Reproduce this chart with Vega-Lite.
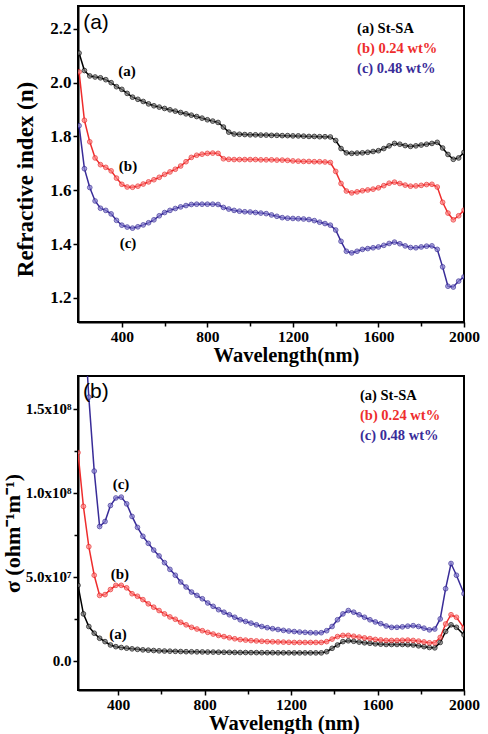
{
  "$schema": "https://vega.github.io/schema/vega-lite/v6.json",
  "background": "white",
  "padding": {"left": 0, "top": 5, "right": 10, "bottom": 0},
  "spacing": 8,
  "config": {
    "view": {"stroke": "#000", "strokeWidth": 2},
    "axis": {
      "domainColor": "#000", "domainWidth": 2, "tickColor": "#000", "tickWidth": 1.5,
      "labelFont": "Liberation Serif", "labelFontWeight": "bold", "labelColor": "#000",
      "titleFont": "Liberation Serif", "titleFontWeight": "bold", "titleColor": "#000",
      "grid": false, "labelFlush": false, "labelOverlap": false, "labelPadding": 2
    }
  },
  "datasets": {
    "top": [
      {"wl":200,"a":2.11,"b":2.04,"c":1.84},{"wl":225,"a":2.045,"b":1.86,"c":1.68},{"wl":250,"a":2.025,"b":1.78,"c":1.61},
      {"wl":275,"a":2.021,"b":1.72,"c":1.56},{"wl":300,"a":2.018,"b":1.695,"c":1.533},{"wl":325,"a":2.011,"b":1.685,"c":1.525},
      {"wl":350,"a":2.0,"b":1.672,"c":1.512},{"wl":375,"a":1.985,"b":1.645,"c":1.488},{"wl":400,"a":1.975,"b":1.622,"c":1.47},
      {"wl":425,"a":1.96,"b":1.612,"c":1.463},{"wl":450,"a":1.946,"b":1.611,"c":1.459},{"wl":475,"a":1.938,"b":1.615,"c":1.464},
      {"wl":500,"a":1.93,"b":1.623,"c":1.471},{"wl":525,"a":1.921,"b":1.631,"c":1.479},{"wl":550,"a":1.914,"b":1.639,"c":1.49},
      {"wl":575,"a":1.909,"b":1.648,"c":1.505},{"wl":600,"a":1.904,"b":1.659,"c":1.517},{"wl":625,"a":1.899,"b":1.668,"c":1.525},
      {"wl":650,"a":1.894,"b":1.678,"c":1.532},{"wl":675,"a":1.889,"b":1.69,"c":1.538},{"wl":700,"a":1.884,"b":1.706,"c":1.543},
      {"wl":725,"a":1.879,"b":1.722,"c":1.547},{"wl":750,"a":1.874,"b":1.73,"c":1.548},{"wl":775,"a":1.868,"b":1.734,"c":1.548},
      {"wl":800,"a":1.862,"b":1.737,"c":1.548},{"wl":825,"a":1.857,"b":1.738,"c":1.548},{"wl":850,"a":1.852,"b":1.737,"c":1.547},
      {"wl":875,"a":1.835,"b":1.717,"c":1.536},{"wl":900,"a":1.816,"b":1.715,"c":1.53},{"wl":925,"a":1.809,"b":1.714,"c":1.525},
      {"wl":950,"a":1.808,"b":1.714,"c":1.522},{"wl":975,"a":1.807,"b":1.714,"c":1.52},{"wl":1000,"a":1.806,"b":1.714,"c":1.519},
      {"wl":1025,"a":1.806,"b":1.714,"c":1.517},{"wl":1050,"a":1.805,"b":1.713,"c":1.515},{"wl":1075,"a":1.805,"b":1.713,"c":1.513},
      {"wl":1100,"a":1.804,"b":1.713,"c":1.508},{"wl":1125,"a":1.804,"b":1.712,"c":1.503},{"wl":1150,"a":1.803,"b":1.712,"c":1.498},
      {"wl":1175,"a":1.803,"b":1.711,"c":1.496},{"wl":1200,"a":1.802,"b":1.709,"c":1.495},{"wl":1225,"a":1.802,"b":1.708,"c":1.494},
      {"wl":1250,"a":1.801,"b":1.707,"c":1.493},{"wl":1275,"a":1.8,"b":1.707,"c":1.491},{"wl":1300,"a":1.8,"b":1.706,"c":1.487},
      {"wl":1325,"a":1.799,"b":1.706,"c":1.481},{"wl":1350,"a":1.799,"b":1.705,"c":1.476},{"wl":1375,"a":1.798,"b":1.703,"c":1.47},
      {"wl":1400,"a":1.785,"b":1.67,"c":1.452},{"wl":1425,"a":1.755,"b":1.625,"c":1.41},{"wl":1450,"a":1.739,"b":1.597,"c":1.373},
      {"wl":1475,"a":1.737,"b":1.59,"c":1.367},{"wl":1500,"a":1.738,"b":1.594,"c":1.373},{"wl":1525,"a":1.739,"b":1.598,"c":1.38},
      {"wl":1550,"a":1.741,"b":1.601,"c":1.383},{"wl":1575,"a":1.744,"b":1.604,"c":1.386},{"wl":1600,"a":1.747,"b":1.609,"c":1.389},
      {"wl":1625,"a":1.755,"b":1.617,"c":1.395},{"wl":1650,"a":1.765,"b":1.626,"c":1.402},{"wl":1675,"a":1.774,"b":1.63,"c":1.407},
      {"wl":1700,"a":1.771,"b":1.625,"c":1.401},{"wl":1725,"a":1.766,"b":1.619,"c":1.393},{"wl":1750,"a":1.763,"b":1.615,"c":1.387},
      {"wl":1775,"a":1.765,"b":1.616,"c":1.386},{"wl":1800,"a":1.768,"b":1.618,"c":1.389},{"wl":1825,"a":1.771,"b":1.621,"c":1.392},
      {"wl":1850,"a":1.774,"b":1.622,"c":1.393},{"wl":1875,"a":1.778,"b":1.612,"c":1.38},{"wl":1900,"a":1.757,"b":1.555,"c":1.315},
      {"wl":1925,"a":1.733,"b":1.515,"c":1.243},{"wl":1950,"a":1.715,"b":1.49,"c":1.24},{"wl":1975,"a":1.72,"b":1.505,"c":1.262},
      {"wl":2000,"a":1.741,"b":1.526,"c":1.278}
    ],
    "bot": [
      {"wl":215,"a":4.5e7,"b":1.24e8,"c":2.9e8},{"wl":240,"a":2.8e7,"b":9.2e7,"c":2.1e8},{"wl":265,"a":2.05e7,"b":6.8e7,"c":1.57e8},
      {"wl":290,"a":1.65e7,"b":5.1e7,"c":1.13e8},{"wl":315,"a":1.35e7,"b":3.9e7,"c":8.0e7},{"wl":340,"a":1.15e7,"b":3.95e7,"c":8.3e7},
      {"wl":365,"a":9.5e6,"b":4.25e7,"c":9.25e7},{"wl":390,"a":8.5e6,"b":4.5e7,"c":9.7e7},{"wl":415,"a":8.0e6,"b":4.5e7,"c":9.75e7},
      {"wl":440,"a":7.6e6,"b":4.35e7,"c":9.35e7},{"wl":465,"a":7.2e6,"b":4.0e7,"c":8.6e7},{"wl":490,"a":6.9e6,"b":3.85e7,"c":7.95e7},
      {"wl":515,"a":6.6e6,"b":3.65e7,"c":7.42e7},{"wl":540,"a":6.4e6,"b":3.4e7,"c":7.0e7},{"wl":565,"a":6.2e6,"b":3.2e7,"c":6.6e7},
      {"wl":590,"a":6.0e6,"b":3.0e7,"c":6.25e7},{"wl":615,"a":5.9e6,"b":2.8e7,"c":5.85e7},{"wl":640,"a":5.8e6,"b":2.62e7,"c":5.45e7},
      {"wl":665,"a":5.7e6,"b":2.48e7,"c":5.1e7},{"wl":690,"a":5.6e6,"b":2.3e7,"c":4.7e7},{"wl":715,"a":5.5e6,"b":2.15e7,"c":4.4e7},
      {"wl":740,"a":5.45e6,"b":2.0e7,"c":4.1e7},{"wl":765,"a":5.4e6,"b":1.9e7,"c":3.9e7},{"wl":790,"a":5.35e6,"b":1.8e7,"c":3.7e7},
      {"wl":815,"a":5.3e6,"b":1.7e7,"c":3.45e7},{"wl":840,"a":5.25e6,"b":1.6e7,"c":3.25e7},{"wl":865,"a":5.2e6,"b":1.52e7,"c":3.05e7},
      {"wl":890,"a":5.15e6,"b":1.45e7,"c":2.9e7},{"wl":915,"a":5.1e6,"b":1.38e7,"c":2.75e7},{"wl":940,"a":5.05e6,"b":1.32e7,"c":2.6e7},
      {"wl":965,"a":5.0e6,"b":1.27e7,"c":2.45e7},{"wl":990,"a":5.0e6,"b":1.24e7,"c":2.35e7},{"wl":1015,"a":4.95e6,"b":1.21e7,"c":2.25e7},
      {"wl":1040,"a":4.95e6,"b":1.19e7,"c":2.15e7},{"wl":1065,"a":4.9e6,"b":1.17e7,"c":2.05e7},{"wl":1090,"a":4.9e6,"b":1.15e7,"c":1.98e7},
      {"wl":1115,"a":4.9e6,"b":1.14e7,"c":1.92e7},{"wl":1140,"a":4.85e6,"b":1.13e7,"c":1.87e7},{"wl":1165,"a":4.85e6,"b":1.12e7,"c":1.82e7},
      {"wl":1190,"a":4.85e6,"b":1.11e7,"c":1.78e7},{"wl":1215,"a":4.8e6,"b":1.1e7,"c":1.75e7},{"wl":1240,"a":4.8e6,"b":1.1e7,"c":1.72e7},
      {"wl":1265,"a":4.8e6,"b":1.1e7,"c":1.7e7},{"wl":1290,"a":4.8e6,"b":1.1e7,"c":1.68e7},{"wl":1315,"a":4.8e6,"b":1.1e7,"c":1.67e7},
      {"wl":1340,"a":4.8e6,"b":1.1e7,"c":1.68e7},{"wl":1365,"a":5.5e6,"b":1.15e7,"c":1.8e7},{"wl":1390,"a":7.5e6,"b":1.3e7,"c":2.05e7},
      {"wl":1415,"a":9.5e6,"b":1.45e7,"c":2.45e7},{"wl":1440,"a":1.15e7,"b":1.52e7,"c":2.8e7},{"wl":1465,"a":1.2e7,"b":1.52e7,"c":3.0e7},
      {"wl":1490,"a":1.17e7,"b":1.47e7,"c":2.9e7},{"wl":1515,"a":1.12e7,"b":1.42e7,"c":2.75e7},{"wl":1540,"a":1.08e7,"b":1.37e7,"c":2.6e7},
      {"wl":1565,"a":1.05e7,"b":1.33e7,"c":2.45e7},{"wl":1590,"a":1.02e7,"b":1.28e7,"c":2.32e7},{"wl":1615,"a":1.0e7,"b":1.25e7,"c":2.22e7},
      {"wl":1640,"a":9.8e6,"b":1.22e7,"c":2.08e7},{"wl":1665,"a":9.8e6,"b":1.22e7,"c":2.0e7},{"wl":1690,"a":9.8e6,"b":1.22e7,"c":2.0e7},
      {"wl":1715,"a":9.8e6,"b":1.23e7,"c":2.03e7},{"wl":1740,"a":9.7e6,"b":1.24e7,"c":2.07e7},{"wl":1765,"a":9.5e6,"b":1.22e7,"c":2.1e7},
      {"wl":1790,"a":9.0e6,"b":1.18e7,"c":2.05e7},{"wl":1815,"a":8.5e6,"b":1.13e7,"c":1.95e7},{"wl":1840,"a":8.0e6,"b":1.08e7,"c":1.85e7},
      {"wl":1865,"a":7.8e6,"b":1.08e7,"c":1.9e7},{"wl":1890,"a":1.1e7,"b":1.4e7,"c":2.5e7},{"wl":1915,"a":1.75e7,"b":2.2e7,"c":4.3e7},
      {"wl":1940,"a":2.15e7,"b":2.75e7,"c":5.8e7},{"wl":1965,"a":2.0e7,"b":2.6e7,"c":5.1e7},{"wl":2000,"a":1.55e7,"b":1.96e7,"c":4.0e7}
    ]
  },
  "vconcat": [
    {
      "width": 386, "height": 316,
      "layer": [
        {
          "data": {"name": "top"},
          "transform": [{"fold": ["a", "b", "c"], "as": ["series", "v"]}],
          "mark": {"type": "line", "strokeWidth": 1.5, "clip": true},
          "encoding": {
            "x": {"field": "wl", "type": "quantitative", "scale": {"domain": [195, 2000], "nice": false, "zero": false},
              "axis": {"title": "Wavelength(nm)", "titleFontSize": 20.5, "titlePadding": 1, "titleX": 208, "labelFontSize": 15.5, "format": "d",
                "values": [400, 600, 800, 1000, 1200, 1400, 1600, 1800, 2000],
                "labelExpr": "datum.value % 400 == 0 ? datum.label : ''",
                "tickSize": {"condition": {"test": "datum.value % 400 == 0", "value": 5}, "value": 4}}},
            "y": {"field": "v", "type": "quantitative", "scale": {"domain": [1.11, 2.285], "nice": false, "zero": false},
              "axis": {"title": "Refractive index (n)", "titleFontSize": 23, "titlePadding": 12, "titleY": 173, "labelFontSize": 17,
                "values": [1.2, 1.3, 1.4, 1.5, 1.6, 1.7, 1.8, 1.9, 2.0, 2.1, 2.2],
                "labelExpr": "round(datum.value * 10) % 2 == 0 ? format(datum.value, '.1f') : ''",
                "tickSize": {"condition": {"test": "round(datum.value * 10) % 2 == 0", "value": 5}, "value": 4}}},
            "color": {"field": "series", "type": "nominal", "scale": {"domain": ["a", "b", "c"], "range": ["#000000", "#ee2d2d", "#392c98"]}, "legend": null}
          }
        },
        {
          "data": {"name": "top"},
          "transform": [{"fold": ["a", "b", "c"], "as": ["series", "v"]}],
          "mark": {"type": "point", "shape": "circle", "filled": true, "size": 22, "strokeWidth": 1, "clip": true},
          "encoding": {
            "x": {"field": "wl", "type": "quantitative"},
            "y": {"field": "v", "type": "quantitative"},
            "stroke": {"field": "series", "type": "nominal", "scale": {"domain": ["a", "b", "c"], "range": ["#000000", "#e82222", "#2e2290"]}, "legend": null},
            "fill": {"field": "series", "type": "nominal", "scale": {"domain": ["a", "b", "c"], "range": ["#7a7a7a", "#ff8585", "#8a82d2"]}, "legend": null}
          }
        },
        {
          "data": {"values": [{"wl": 424, "v": 2.044, "t": "(a)"}, {"wl": 429, "v": 1.691, "t": "(b)"}, {"wl": 429, "v": 1.404, "t": "(c)"}]},
          "mark": {"type": "text", "font": "Liberation Serif", "fontWeight": "bold", "fontSize": 15, "align": "center", "baseline": "middle", "color": "#000"},
          "encoding": {"x": {"field": "wl", "type": "quantitative"}, "y": {"field": "v", "type": "quantitative"}, "text": {"field": "t"}}
        },
        {
          "data": {"values": [{"wl": 279, "v": 2.222, "t": "(a)"}]},
          "mark": {"type": "text", "font": "Liberation Sans", "fontSize": 21, "align": "center", "baseline": "middle", "color": "#000"},
          "encoding": {"x": {"field": "wl", "type": "quantitative"}, "y": {"field": "v", "type": "quantitative"}, "text": {"field": "t"}}
        },
        {
          "data": {"values": [{"wl": 1500, "v": 2.2, "t": "(a) St-SA", "series": "a"}, {"wl": 1500, "v": 2.126, "t": "(b) 0.24 wt%", "series": "b"}, {"wl": 1500, "v": 2.051, "t": "(c) 0.48 wt%", "series": "c"}]},
          "mark": {"type": "text", "font": "Liberation Serif", "fontWeight": "bold", "fontSize": 14.5, "align": "left", "baseline": "middle"},
          "encoding": {"x": {"field": "wl", "type": "quantitative"}, "y": {"field": "v", "type": "quantitative"}, "text": {"field": "t"},
            "color": {"field": "series", "type": "nominal", "legend": null}}
        }
      ]
    },
    {
      "width": 386, "height": 314,
      "layer": [
        {
          "data": {"name": "bot"},
          "transform": [{"fold": ["a", "b", "c"], "as": ["series", "v"]}],
          "mark": {"type": "line", "strokeWidth": 1.5, "clip": true},
          "encoding": {
            "x": {"field": "wl", "type": "quantitative", "scale": {"domain": [215, 2000], "nice": false, "zero": false},
              "axis": {"title": "Wavelength (nm)", "titleFontSize": 20.5, "titlePadding": 1, "titleX": 206, "labelFontSize": 15.5, "format": "d",
                "values": [400, 600, 800, 1000, 1200, 1400, 1600, 1800, 2000],
                "labelExpr": "datum.value % 400 == 0 ? datum.label : ''",
                "tickSize": {"condition": {"test": "datum.value % 400 == 0", "value": 5}, "value": 4}}},
            "y": {"field": "v", "type": "quantitative", "scale": {"domain": [-1.73e7, 1.696e8], "nice": false, "zero": false},
              "axis": {"title": "σ (ohm⁻¹m⁻¹)", "titleFontSize": 22, "titlePadding": 1, "labelFontSize": 15,
                "values": [0, 2.5e7, 5e7, 7.5e7, 1e8, 1.25e8, 1.5e8],
                "labelExpr": "datum.value == 0 ? '0.0' : datum.value == 5e7 ? '5.0x10⁷' : datum.value == 1e8 ? '1.0x10⁸' : datum.value == 1.5e8 ? '1.5x10⁸' : ''",
                "tickSize": {"condition": {"test": "datum.value % 5e7 == 0", "value": 5}, "value": 4}}},
            "color": {"field": "series", "type": "nominal", "scale": {"domain": ["a", "b", "c"], "range": ["#000000", "#ee2d2d", "#392c98"]}, "legend": null}
          }
        },
        {
          "data": {"name": "bot"},
          "transform": [{"fold": ["a", "b", "c"], "as": ["series", "v"]}],
          "mark": {"type": "point", "shape": "circle", "filled": true, "size": 22, "strokeWidth": 1, "clip": true},
          "encoding": {
            "x": {"field": "wl", "type": "quantitative"},
            "y": {"field": "v", "type": "quantitative"},
            "stroke": {"field": "series", "type": "nominal", "scale": {"domain": ["a", "b", "c"], "range": ["#000000", "#e82222", "#2e2290"]}, "legend": null},
            "fill": {"field": "series", "type": "nominal", "scale": {"domain": ["a", "b", "c"], "range": ["#7a7a7a", "#ff8585", "#8a82d2"]}, "legend": null}
          }
        },
        {
          "data": {"values": [{"wl": 400, "v": 1.6e7, "t": "(a)"}, {"wl": 409, "v": 5.18e7, "t": "(b)"}, {"wl": 414, "v": 1.053e8, "t": "(c)"}]},
          "mark": {"type": "text", "font": "Liberation Serif", "fontWeight": "bold", "fontSize": 15, "align": "center", "baseline": "middle", "color": "#000"},
          "encoding": {"x": {"field": "wl", "type": "quantitative"}, "y": {"field": "v", "type": "quantitative"}, "text": {"field": "t"}}
        },
        {
          "data": {"values": [{"wl": 298, "v": 1.6e8, "t": "(b)"}]},
          "mark": {"type": "text", "font": "Liberation Sans", "fontSize": 21, "align": "center", "baseline": "middle", "color": "#000"},
          "encoding": {"x": {"field": "wl", "type": "quantitative"}, "y": {"field": "v", "type": "quantitative"}, "text": {"field": "t"}}
        },
        {
          "data": {"values": [{"wl": 1519, "v": 1.577e8, "t": "(a) St-SA", "series": "a"}, {"wl": 1519, "v": 1.458e8, "t": "(b) 0.24 wt%", "series": "b"}, {"wl": 1519, "v": 1.339e8, "t": "(c) 0.48 wt%", "series": "c"}]},
          "mark": {"type": "text", "font": "Liberation Serif", "fontWeight": "bold", "fontSize": 14.5, "align": "left", "baseline": "middle"},
          "encoding": {"x": {"field": "wl", "type": "quantitative"}, "y": {"field": "v", "type": "quantitative"}, "text": {"field": "t"},
            "color": {"field": "series", "type": "nominal", "legend": null}}
        }
      ]
    }
  ]
}
